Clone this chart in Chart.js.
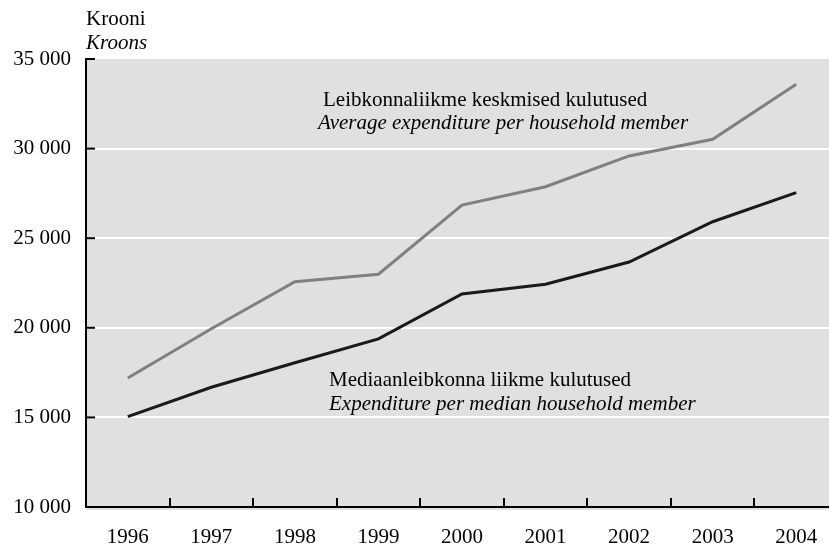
<!DOCTYPE html>
<html>
<head>
<meta charset="utf-8">
<script src="https://cdn.jsdelivr.net/npm/chart.js@4"></script>
<style>
    html, body { margin: 0; padding: 0; background: #fff; overflow: hidden; }
    #wrap { width: 829px; height: 544px; overflow: hidden; }
</style>
</head>
<body>
<div id="wrap"><canvas id="graafik" width="840" height="544"></canvas></div>
<script>
    // andmed
    const aastad = ["1996", "1997", "1998", "1999", "2000", "2001", "2002", "2003", "2004"];
    const keskmised = [17200, 19950, 22570, 22990, 26850, 27870, 29590, 30520, 33590];
    const mediaan = [15040, 16680, 18050, 19380, 21890, 22430, 23670, 25920, 27540];
    const yTikid = [10000, 15000, 20000, 25000, 30000, 35000];

    const FONT = "'Liberation Serif', 'Times New Roman', serif";

    function tuhanded(v) {
        return String(v).replace(/\B(?=(\d{3})+(?!\d))/g, " ");
    }

    const taust = {
        id: "taust",
        beforeDraw(chart) {
            const { ctx, chartArea: a } = chart;
            ctx.save();
            ctx.fillStyle = "#e0e0e0";
            ctx.fillRect(a.left, a.top, a.right - a.left, a.bottom - a.top + 3);
            ctx.restore();
        }
    };

    // sissepoole suunatud kriipsud + tekstid
    const lisad = {
        id: "lisad",
        afterDraw(chart) {
            const { ctx, chartArea: a, scales } = chart;
            ctx.save();
            ctx.strokeStyle = "#000";
            ctx.lineWidth = 2;
            for (let i = 1; i < aastad.length; i++) {
                const x = Math.round((scales.x.getPixelForValue(i - 1) + scales.x.getPixelForValue(i)) / 2);
                ctx.beginPath();
                ctx.moveTo(x, a.bottom);
                ctx.lineTo(x, a.bottom - 9);
                ctx.stroke();
            }
            yTikid.forEach(v => {
                const y = scales.y.getPixelForValue(v);
                ctx.beginPath();
                ctx.moveTo(a.left, y);
                ctx.lineTo(a.left + 9, y);
                ctx.stroke();
            });

            ctx.fillStyle = "#000";
            ctx.textBaseline = "middle";
            ctx.textAlign = "left";
            ctx.font = `21px ${FONT}`;
            ctx.fillText("Krooni", 86, 19);
            ctx.fillText("Leibkonnaliikme keskmised kulutused", 323, 100);
            ctx.fillText("Mediaanleibkonna liikme kulutused", 329, 380);
            ctx.font = `italic 21px ${FONT}`;
            ctx.fillText("Kroons", 86, 43);
            ctx.fillText("Average expenditure per household member", 318, 123);
            ctx.fillText("Expenditure per median household member", 329, 404);
            ctx.restore();
        }
    };

    new Chart(document.getElementById("graafik"), {
        type: "line",
        data: {
            labels: aastad,
            datasets: [
                {
                    label: "Leibkonnaliikme keskmised kulutused",
                    data: keskmised,
                    borderColor: "#808080",
                    borderWidth: 3,
                    pointRadius: 0,
                    tension: 0,
                },
                {
                    label: "Mediaanleibkonna liikme kulutused",
                    data: mediaan,
                    borderColor: "#1a1a1a",
                    borderWidth: 3,
                    pointRadius: 0,
                    tension: 0,
                },
            ],
        },
        options: {
            responsive: false,
            animation: false,
            layout: { padding: { top: 59, right: 2, left: 0, bottom: 0 } },
            plugins: {
                legend: { display: false },
                tooltip: { enabled: false },
            },
            scales: {
                x: {
                    offset: true,
                    grid: { display: false },
                    border: { display: true, color: "#000", width: 2 },
                    ticks: { color: "#000", font: { family: FONT, size: 21 }, padding: 10, maxRotation: 0 },
                    afterFit(s) { s.height = 37; },
                },
                y: {
                    min: 10000,
                    max: 35000,
                    afterBuildTicks(s) { s.ticks = yTikid.map(v => ({ value: v })); },
                    grid: {
                        drawTicks: false,
                        lineWidth: 2,
                        color: c => (c.tick && (c.tick.value === 10000 || c.tick.value === 35000)) ? "rgba(0,0,0,0)" : "#ffffff",
                    },
                    border: { display: true, color: "#000", width: 2 },
                    ticks: {
                        color: "#000",
                        font: { family: FONT, size: 21 },
                        padding: 15,
                        callback: v => tuhanded(v),
                    },
                    afterFit(s) { s.width = 86; },
                },
            },
        },
        plugins: [taust, lisad],
    });
</script>
</body>
</html>
